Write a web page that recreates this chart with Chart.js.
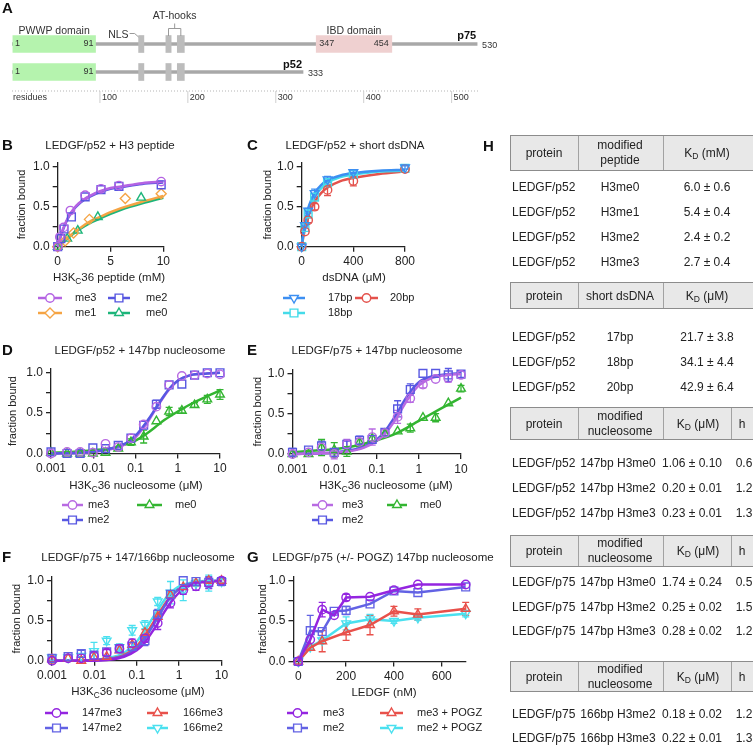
<!DOCTYPE html>
<html>
<head>
<meta charset="utf-8">
<script src="https://cdn.jsdelivr.net/npm/chart.js@4.4.1/dist/chart.umd.min.js"></script>
<style>
  body { margin: 0; background: #fff; width: 753px; height: 753px; overflow: hidden; position: relative;
         font-family: 'Liberation Sans', Arial, sans-serif; }
  canvas.layer { position: absolute; left: 0; top: 0; }
  .thead { position: absolute; background: #e8e8e8; border-top: 1px solid #8c8c8c; border-bottom: 1px solid #8c8c8c;
           border-left: 1px solid #8c8c8c; box-sizing: border-box; }
  .tdiv  { position: absolute; width: 1px; background: #a2a2a2; }
  .cell  { position: absolute; font-size: 12px; color: #222; white-space: nowrap; line-height: 15px; }
  .cell sub { font-size: 8.5px; vertical-align: -2px; line-height: 0; }
  .letter { position: absolute; font-weight: bold; font-size: 15px; color: #111; }
</style>
</head>
<body>
<canvas id="chartA" class="layer" width="753" height="753"></canvas>
<canvas id="chartB" class="layer" width="753" height="753"></canvas>
<canvas id="chartC" class="layer" width="753" height="753"></canvas>
<canvas id="chartD" class="layer" width="753" height="753"></canvas>
<canvas id="chartE" class="layer" width="753" height="753"></canvas>
<canvas id="chartF" class="layer" width="753" height="753"></canvas>
<canvas id="chartG" class="layer" width="753" height="753"></canvas>
<div id="panelH"><div class="letter" style="left:483px;top:137px">H</div></div>

<script>
// ── DATA ──────────────────────────────────────────────────────

// A: LEDGF domain map (residues)
const aRows   = ['p75', 'p52'];
const aLength = [529, 331];
const aPWWP   = [1, 95];
const aNLS    = [144, 150];
const aHook1  = [175, 181];
const aHook2  = [188, 196];
const aIBD    = [346, 432];
const aTicks  = [100, 200, 300, 400, 500];
const aEndLabels  = ['530', '333'];
const aPWWPLabels = ['1', '91'];
const aIBDLabels  = ['347', '454'];

// shared y axis
const yTicks  = [0, 0.25, 0.5, 0.75, 1];
const yLabels = [0, 0.5, 1];

// B: LEDGF/p52 + H3 peptide (mM)
const bTicks  = [0, 5, 10];
const bMe3X   = [0, 0.2, 0.55, 1.2, 2.6, 4.1, 5.8, 9.8];
const bMe3Y   = [0, 0.12, 0.24, 0.45, 0.64, 0.72, 0.76, 0.81];
const bMe2X   = [0, 0.3, 0.6, 1.3, 2.6, 4.1, 5.8, 9.8];
const bMe2Y   = [0, 0.10, 0.22, 0.37, 0.62, 0.71, 0.75, 0.77];
const bMe1X   = [0, 0.7, 1.5, 3.0, 6.4, 9.8];
const bMe1Y   = [0, 0.07, 0.17, 0.34, 0.60, 0.66];
const bMe0X   = [0, 0.9, 1.9, 3.8, 7.9];
const bMe0Y   = [0, 0.10, 0.20, 0.37, 0.61];
const bFitX   = [0, 0.25, 0.5, 1, 1.5, 2, 2.6, 3, 4, 5, 6, 8, 10];
const bFitMe3 = [0, 0.12, 0.22, 0.37, 0.47, 0.54, 0.60, 0.63, 0.69, 0.73, 0.75, 0.79, 0.81];
const bFitMe2 = [0, 0.11, 0.21, 0.36, 0.46, 0.53, 0.59, 0.62, 0.68, 0.72, 0.74, 0.78, 0.80];
const bFitX2  = [0, 1, 2, 3, 4, 5, 6, 8, 10];
const bFitMe1 = [0, 0.12, 0.22, 0.31, 0.37, 0.43, 0.48, 0.56, 0.63];
const bFitMe0 = [0, 0.11, 0.21, 0.29, 0.35, 0.41, 0.46, 0.54, 0.61];

// C: LEDGF/p52 + short dsDNA (µM)
const cTicks  = [0, 400, 800];
const cConc   = [0, 25, 50, 100, 200, 400, 800];
const c17     = [0, 0.27, 0.45, 0.67, 0.84, 0.93, 0.99];
const c17Err  = [0, 0, 0.03, 0.05, 0.04, 0.02, 0.02];
const c18     = [0, 0.24, 0.41, 0.62, 0.80, 0.91, 0.98];
const c18Err  = [0, 0, 0.03, 0.04, 0.03, 0.02, 0];
const c20     = [0, 0.19, 0.33, 0.50, 0.71, 0.82, 0.97];
const c20Err  = [0, 0, 0.03, 0.04, 0.07, 0.06, 0];
const cFitX   = [0, 12.5, 25, 50, 75, 100, 150, 200, 300, 400, 600, 800];
const cFit17  = [0, 0.17, 0.30, 0.48, 0.59, 0.67, 0.77, 0.83, 0.89, 0.92, 0.95, 0.96];
const cFit18  = [0, 0.15, 0.27, 0.44, 0.55, 0.63, 0.73, 0.80, 0.87, 0.90, 0.94, 0.95];
const cFit20  = [0, 0.12, 0.22, 0.37, 0.48, 0.56, 0.67, 0.74, 0.82, 0.86, 0.91, 0.94];

// D/E/F: nucleosome titrations (µM, log axis)
const logTicks = [0.001, 0.01, 0.1, 1, 10];
const nucConc  = [0.001, 0.0024, 0.0049, 0.0098, 0.0195, 0.039, 0.078, 0.156, 0.3125, 0.625, 1.25, 2.5, 5, 10];

const dMe3    = [0.00, 0.02, 0.02, 0.01, 0.12, 0.08, 0.19, 0.36, 0.58, 0.85, 0.96, 0.97, 0.99, 0.98];
const dMe2    = [0.02, 0.00, 0.00, 0.07, 0.06, 0.10, 0.19, 0.35, 0.61, 0.85, 0.86, 0.97, 1.00, 1.00];
const dMe2Err = [0, 0, 0, 0, 0, 0, 0, 0, 0.05, 0, 0, 0, 0, 0];
const dMe0    = [0.01, 0.00, 0.00, 0.00, 0.01, 0.06, 0.14, 0.21, 0.40, 0.52, 0.53, 0.60, 0.67, 0.73];
const dMe0Err = [0, 0, 0, 0, 0, 0, 0.04, 0.08, 0, 0.05, 0.03, 0.03, 0.05, 0.06];
const dFitX   = [0.001, 0.005, 0.01, 0.02, 0.035, 0.06, 0.1, 0.15, 0.2, 0.3, 0.45, 0.6, 1, 2, 5, 10];
const dFitMe2 = [0.00, 0.01, 0.02, 0.05, 0.08, 0.13, 0.22, 0.33, 0.42, 0.56, 0.70, 0.79, 0.90, 0.97, 0.99, 1.00];
const dFitMe3 = [0.00, 0.01, 0.02, 0.04, 0.07, 0.12, 0.20, 0.31, 0.40, 0.55, 0.69, 0.78, 0.90, 0.97, 0.99, 1.00];
const dFitX0  = [0.001, 0.003, 0.01, 0.03, 0.06, 0.1, 0.2, 0.3, 0.5, 1, 2, 5, 10];
const dFitMe0 = [0.01, 0.02, 0.04, 0.07, 0.12, 0.16, 0.26, 0.33, 0.42, 0.52, 0.61, 0.71, 0.78];

const eMe3    = [0.00, 0.02, 0.08, 0.00, 0.12, 0.15, 0.21, 0.26, 0.46, 0.69, 0.86, 0.93, 0.94, 0.98];
const eMe3Err = [0, 0, 0, 0.06, 0.06, 0.04, 0.10, 0.04, 0.08, 0.05, 0.04, 0, 0.05, 0];
const eMe2    = [0.02, 0.05, 0.10, 0.02, 0.12, 0.17, 0.18, 0.27, 0.56, 0.80, 1.00, 1.00, 0.98, 0.99];
const eMe2Err = [0.05, 0, 0.06, 0, 0.04, 0.05, 0, 0.04, 0.10, 0.07, 0, 0, 0.08, 0.04];
const eMe0    = [0.00, 0.00, 0.08, 0.05, 0.03, 0.14, 0.19, 0.25, 0.28, 0.32, 0.45, 0.45, 0.63, 0.81];
const eMe0Err = [0, 0.03, 0.10, 0.09, 0.06, 0.05, 0.04, 0, 0, 0.05, 0, 0.05, 0, 0.04];
const eFitX   = [0.001, 0.005, 0.01, 0.02, 0.05, 0.1, 0.15, 0.2, 0.3, 0.45, 0.6, 1, 2, 5, 10];
const eFitMe2 = [0.00, 0.01, 0.02, 0.04, 0.09, 0.18, 0.27, 0.36, 0.50, 0.66, 0.76, 0.89, 0.96, 0.99, 1.00];
const eFitMe3 = [0.00, 0.01, 0.02, 0.03, 0.08, 0.16, 0.24, 0.32, 0.45, 0.61, 0.71, 0.85, 0.94, 0.98, 0.99];
const eFitX0  = [0.001, 0.003, 0.01, 0.03, 0.1, 0.3, 1, 3, 10];
const eFitMe0 = [0.02, 0.04, 0.06, 0.10, 0.17, 0.26, 0.41, 0.55, 0.70];

const f147me3    = [0.00, 0.03, 0.03, 0.06, 0.10, 0.15, 0.22, 0.28, 0.47, 0.72, 0.88, 0.93, 0.97, 1.00];
const f147me3Err = [0, 0, 0, 0.04, 0.04, 0.04, 0.05, 0.05, 0.08, 0.06, 0.05, 0.05, 0.07, 0.03];
const f147me2    = [0.03, 0.05, 0.09, 0.07, 0.11, 0.15, 0.18, 0.25, 0.58, 0.83, 1.00, 0.99, 0.98, 0.99];
const f147me2Err = [0.03, 0, 0.04, 0, 0, 0.04, 0.05, 0.06, 0.06, 0.04, 0, 0, 0.07, 0.05];
const f166me3    = [0.02, 0.03, 0.00, 0.04, 0.05, 0.13, 0.20, 0.35, 0.55, 0.82, 0.92, 0.97, 1.00, 1.00];
const f166me3Err = [0.05, 0, 0, 0, 0, 0, 0, 0.04, 0.04, 0.04, 0, 0, 0, 0];
const f166me2    = [0.04, 0.04, 0.06, 0.12, 0.25, 0.17, 0.38, 0.45, 0.74, 0.85, 0.88, 0.97, 0.97, 0.99];
const f166me2Err = [0, 0, 0, 0.11, 0.05, 0.04, 0.06, 0.05, 0.05, 0.14, 0.13, 0.04, 0.10, 0.04];
const fFitX      = [0.001, 0.005, 0.01, 0.02, 0.05, 0.1, 0.15, 0.2, 0.3, 0.45, 0.6, 1, 2, 5, 10];
const fFit166me2 = [0, 0.00, 0.01, 0.03, 0.10, 0.24, 0.37, 0.47, 0.62, 0.76, 0.84, 0.93, 0.98, 1.00, 1.00];
const fFit166me3 = [0, 0.00, 0.01, 0.02, 0.07, 0.18, 0.30, 0.40, 0.55, 0.70, 0.79, 0.90, 0.97, 0.99, 1.00];
const fFit147me2 = [0, 0.00, 0.01, 0.02, 0.06, 0.16, 0.27, 0.37, 0.52, 0.68, 0.78, 0.90, 0.97, 0.99, 1.00];
const fFit147me3 = [0, 0.00, 0.00, 0.01, 0.05, 0.13, 0.22, 0.31, 0.45, 0.61, 0.71, 0.85, 0.95, 0.99, 1.00];

// G: LEDGF/p75 (+/- POGZ), LEDGF in nM
const gTicks     = [0, 200, 400, 600];
const gConc      = [0, 50, 100, 150, 200, 300, 400, 500, 700];
const gMe3       = [0, 0.27, 0.64, 0.57, 0.79, 0.80, 0.88, 0.95, 0.95];
const gMe3Err    = [0, 0, 0.09, 0, 0.04, 0, 0, 0, 0];
const gMe2       = [0, 0.38, 0.37, 0.62, 0.63, 0.71, 0.87, 0.85, 0.92];
const gMe2Err    = [0, 0.19, 0, 0, 0.05, 0, 0, 0, 0];
const gPogzConc  = [0, 50, 100, 200, 300, 400, 500, 700];
const gMe3Pogz   = [0, 0.17, 0.25, 0.36, 0.45, 0.62, 0.58, 0.65];
const gMe3PogzEr = [0, 0.03, 0.13, 0.10, 0.12, 0.06, 0.07, 0.08];
const gMe2Pogz   = [0, 0.18, 0.26, 0.47, 0.52, 0.50, 0.54, 0.59];
const gMe2PogzEr = [0, 0.03, 0.04, 0.08, 0.06, 0.03, 0.03, 0.04];

// H: dissociation constants
const t1Head = ['protein', 'modified<br>peptide', 'K<sub>D</sub> (mM)'];
const t1Rows = [['LEDGF/p52', 'H3me0', '6.0 ± 0.6'], ['LEDGF/p52', 'H3me1', '5.4 ± 0.4'],
                ['LEDGF/p52', 'H3me2', '2.4 ± 0.2'], ['LEDGF/p52', 'H3me3', '2.7 ± 0.4']];
const t2Head = ['protein', 'short dsDNA', 'K<sub>D</sub> (μM)'];
const t2Rows = [['LEDGF/p52', '17bp', '21.7 ± 3.8'], ['LEDGF/p52', '18bp', '34.1 ± 4.4'],
                ['LEDGF/p52', '20bp', '42.9 ± 6.4']];
const nucHead = ['protein', 'modified<br>nucleosome', 'K<sub>D</sub> (μM)', 'h'];
const t3Rows = [['LEDGF/p52', '147bp H3me0', '1.06 ± 0.10', '0.6'], ['LEDGF/p52', '147bp H3me2', '0.20 ± 0.01', '1.2'],
                ['LEDGF/p52', '147bp H3me3', '0.23 ± 0.01', '1.3']];
const t4Rows = [['LEDGF/p75', '147bp H3me0', '1.74 ± 0.24', '0.5'], ['LEDGF/p75', '147bp H3me2', '0.25 ± 0.02', '1.5'],
                ['LEDGF/p75', '147bp H3me3', '0.28 ± 0.02', '1.2']];
const t5Rows = [['LEDGF/p75', '166bp H3me2', '0.18 ± 0.02', '1.2'], ['LEDGF/p75', '166bp H3me3', '0.22 ± 0.01', '1.3']];

// ── ESTILO ────────────────────────────────────────────────────
const FONT   = "'Liberation Sans', Arial, sans-serif";
const NARROW = "'Liberation Sans Narrow', 'Liberation Sans', Arial, sans-serif";
Chart.defaults.font.family = FONT;
Chart.defaults.color = '#222';

const col = {
    b3: '#b463e3', b2: '#5656e0', b1: '#f5a444', b0: '#1db57a',
    c17: '#3c8ff2', c18: '#45dbe9', c20: '#e4524c',
    n3: '#b86ae2', n2: '#5858e2', n0: '#33b531',
    f3: '#9425e0', f2: '#6262e4', r3: '#e8514b', r2: '#4ae0ef'
};
const RAD = { circle: 4.2, rect: 5.5, triangle: 5, rectRot: 5 };
const axisGrid   = { drawOnChartArea: false, drawTicks: true, tickLength: 5, color: '#222', lineWidth: 1.3 };
const axisBorder = { display: true, color: '#222', width: 1.3 };

const pts = (xs, ys) => xs.map((x, i) => ({ x, y: ys[i] }));

function dots(label, color, style, xs, ys, errs, rot) {
    return {
        label, data: pts(xs, ys), errors: errs || null, order: 0,
        showLine: false, pointStyle: style, pointRotation: rot || 0, pointRadius: RAD[style],
        pointBorderColor: color, pointBackgroundColor: 'rgba(255,255,255,0)', pointBorderWidth: 1.4,
        borderColor: color, clip: false
    };
}
function joined(label, color, style, xs, ys, errs, rot) {
    const d = dots(label, color, style, xs, ys, errs, rot);
    d.showLine = true; d.borderWidth = 2.5; d.tension = 0;
    return d;
}
function fit(color, xs, ys) {
    return {
        data: pts(xs, ys), order: 1, showLine: true, borderColor: color, borderWidth: 2.5,
        pointRadius: 0, cubicInterpolationMode: 'monotone', clip: false
    };
}

// texto con subíndice: "_C" => C pequeño
function drawRich(ctx, text, cx, cy, size) {
    const parts = [];
    for (let i = 0; i < text.length; i++) {
        if (text[i] === '_') { parts.push({ t: text[i + 1], sub: true }); i++; }
        else if (parts.length && !parts[parts.length - 1].sub) parts[parts.length - 1].t += text[i];
        else parts.push({ t: text[i], sub: false });
    }
    let w = 0;
    parts.forEach(p => { ctx.font = (p.sub ? size * 0.72 : size) + 'px ' + FONT; p.w = ctx.measureText(p.t).width; w += p.w; });
    let x = cx - w / 2;
    ctx.textAlign = 'left'; ctx.textBaseline = 'middle';
    parts.forEach(p => {
        ctx.font = (p.sub ? size * 0.72 : size) + 'px ' + FONT;
        ctx.fillText(p.t, x, p.sub ? cy + size * 0.3 : cy);
        x += p.w;
    });
}

function drawErrorBars(chart) {
    const ctx = chart.ctx, xs = chart.scales.x, ys = chart.scales.y;
    chart.data.datasets.forEach(ds => {
        if (!ds.errors) return;
        ctx.save();
        ctx.strokeStyle = ds.pointBorderColor; ctx.lineWidth = 1.3;
        ds.data.forEach((p, i) => {
            const e = ds.errors[i];
            if (!e) return;
            const px = xs.getPixelForValue(p.x);
            const top = ys.getPixelForValue(p.y + e), bot = ys.getPixelForValue(p.y - e);
            ctx.beginPath();
            ctx.moveTo(px, top); ctx.lineTo(px, bot);
            ctx.moveTo(px - 3.5, top); ctx.lineTo(px + 3.5, top);
            ctx.moveTo(px - 3.5, bot); ctx.lineTo(px + 3.5, bot);
            ctx.stroke();
        });
        ctx.restore();
    });
}

function decoPlugin(cfg) {
    return {
        id: 'deco',
        beforeDatasetsDraw(chart) { drawErrorBars(chart); },
        afterDraw(chart) {
            const ctx = chart.ctx;
            ctx.save();
            ctx.textBaseline = 'middle';
            ctx.fillStyle = '#111'; ctx.textAlign = 'left';
            ctx.font = 'bold 15px ' + FONT;
            ctx.fillText(cfg.letter, cfg.letterX, cfg.titleY);
            ctx.fillStyle = '#222'; ctx.textAlign = 'center';
            ctx.font = '11.5px ' + FONT;
            ctx.fillText(cfg.title, cfg.titleX, cfg.titleY);
            drawRich(ctx, cfg.xTitle, cfg.xTitleX, cfg.xTitleY, 11.5);
            // leyenda
            cfg.legend.forEach(it => {
                const ds = chart.data.datasets[it.ds];
                const c = ds.pointBorderColor;
                ctx.strokeStyle = c; ctx.lineWidth = 2.5;
                ctx.beginPath(); ctx.moveTo(it.x0, it.y); ctx.lineTo(it.x1, it.y); ctx.stroke();
                ctx.fillStyle = '#fff'; ctx.lineWidth = 1.4;
                Chart.helpers.drawPoint(ctx, { pointStyle: ds.pointStyle, radius: ds.pointRadius,
                    rotation: ds.pointRotation, borderWidth: 1.4 }, (it.x0 + it.x1) / 2, it.y);
                ctx.fillStyle = '#222'; ctx.textAlign = 'left'; ctx.textBaseline = 'middle';
                ctx.font = '11px ' + FONT;
                ctx.fillText(ds.label, it.tx, it.y);
            });
            ctx.restore();
        }
    };
}

function makePanel(id, geo, xOpts, datasets, deco) {
    const padL = geo.yTitleX - 6.6;
    const x = Object.assign({
        position: 'bottom', bounds: 'data',
        afterFit: s => { s.height = 40; },
        ticks: { font: { size: 12 }, color: '#222', padding: 3, autoSkip: false, maxRotation: 0, callback: v => String(v) },
        grid: axisGrid, border: axisBorder
    }, xOpts);
    return new Chart(document.getElementById(id), {
        type: 'scatter',
        data: { datasets },
        options: {
            responsive: false, animation: false, events: [],
            layout: { padding: { left: padL, top: geo.top, right: 753 - geo.right, bottom: 753 - geo.bottom - 40 } },
            scales: {
                x,
                y: {
                    type: 'linear', min: 0, max: 1.05, bounds: 'data',
                    afterFit: s => { s.width = geo.left - padL; },
                    afterBuildTicks: s => { s.ticks = yTicks.map(v => ({ value: v })); },
                    ticks: { font: { size: 12 }, color: '#222', padding: 3,
                             callback: v => yLabels.includes(v) ? v.toFixed(1) : '' },
                    grid: axisGrid, border: axisBorder,
                    title: { display: true, text: 'fraction bound', font: { size: 11 }, color: '#222', padding: 0 }
                }
            },
            plugins: { legend: { display: false }, tooltip: { enabled: false } }
        },
        plugins: [decoPlugin(deco)]
    });
}

// ── PANEL A ───────────────────────────────────────────────────
const aDeco = {
    id: 'aDeco',
    afterDraw(chart) {
        const ctx = chart.ctx, xs = chart.scales.x, ys = chart.scales.y;
        const X = v => xs.getPixelForValue(v);
        const rowY = aRows.map((r, i) => ys.getPixelForValue(i));
        const mid = r => X((r[0] + r[1]) / 2);
        ctx.save();
        ctx.textBaseline = 'middle';
        ctx.fillStyle = '#111'; ctx.textAlign = 'left'; ctx.font = 'bold 15px ' + FONT;
        ctx.fillText('A', 2, 9);

        ctx.fillStyle = '#333'; ctx.font = '10.5px ' + NARROW; ctx.textAlign = 'center';
        ctx.fillText('PWWP domain', mid(aPWWP), 31);
        ctx.fillText('IBD domain', mid(aIBD), 31);
        const h1 = mid(aHook1), h2 = mid(aHook2), hm = (h1 + h2) / 2;
        ctx.fillText('AT-hooks', hm, 16.5);
        ctx.textAlign = 'right';
        ctx.fillText('NLS', X(aNLS[0]) - 10, 35);

        ctx.strokeStyle = '#9a9a9a'; ctx.lineWidth = 1;
        ctx.beginPath();
        ctx.moveTo(X(aNLS[0]) - 9, 33.5); ctx.lineTo(X(aNLS[0]) - 4, 33.5); ctx.lineTo(X(aNLS[0]), 37);
        ctx.moveTo(h1, 36); ctx.lineTo(h1, 28.5); ctx.lineTo(h2, 28.5); ctx.lineTo(h2, 36);
        ctx.moveTo(hm, 28.5); ctx.lineTo(hm, 23.5);
        ctx.stroke();

        ctx.font = '9px ' + NARROW; ctx.fillStyle = '#333';
        rowY.forEach(y => {
            ctx.textAlign = 'left';  ctx.fillText(aPWWPLabels[0], X(aPWWP[0]) + 2, y);
            ctx.textAlign = 'right'; ctx.fillText(aPWWPLabels[1], X(aPWWP[1]) - 2, y);
        });
        ctx.textAlign = 'left';  ctx.fillText(aIBDLabels[0], X(aIBD[0]) + 3, rowY[0]);
        ctx.textAlign = 'right'; ctx.fillText(aIBDLabels[1], X(aIBD[1]) - 3, rowY[0]);
        ctx.textAlign = 'left';
        aEndLabels.forEach((t, i) => ctx.fillText(t, X(aLength[i]) + 5, rowY[i] + 2));

        ctx.font = 'bold 11px ' + NARROW; ctx.fillStyle = '#111'; ctx.textAlign = 'right';
        aRows.forEach((t, i) => ctx.fillText(t, X(aLength[i]) - 1, rowY[i] - (i === 0 ? 8.5 : 7)));

        // eje de residuos
        ctx.strokeStyle = '#b5b5b5'; ctx.setLineDash([1, 2]);
        ctx.beginPath(); ctx.moveTo(X(0), 91); ctx.lineTo(X(530), 91); ctx.stroke();
        ctx.setLineDash([]); ctx.strokeStyle = '#cfcfcf';
        ctx.font = '9px ' + NARROW; ctx.fillStyle = '#333'; ctx.textAlign = 'left';
        ctx.fillText('residues', X(0) + 1, 97.5);
        aTicks.forEach(t => {
            ctx.beginPath(); ctx.moveTo(X(t), 91); ctx.lineTo(X(t), 103); ctx.stroke();
            ctx.fillText(String(t), X(t) + 2, 97.5);
        });
        ctx.restore();
    }
};

const boxOpts = { barThickness: 17, grouped: false, borderWidth: 0, order: 1 };
new Chart(document.getElementById('chartA'), {
    type: 'bar',
    data: {
        labels: aRows,
        datasets: [
            Object.assign({ label: 'PWWP domain', data: aRows.map(r => ({ y: r, x: aPWWP })), backgroundColor: '#b5f3ae' }, boxOpts),
            Object.assign({ label: 'NLS', data: aRows.map(r => ({ y: r, x: aNLS })), backgroundColor: '#bcbcbc' }, boxOpts),
            Object.assign({ label: 'AT-hook 1', data: aRows.map(r => ({ y: r, x: aHook1 })), backgroundColor: '#bcbcbc' }, boxOpts),
            Object.assign({ label: 'AT-hook 2', data: aRows.map(r => ({ y: r, x: aHook2 })), backgroundColor: '#bcbcbc' }, boxOpts),
            Object.assign({ label: 'IBD domain', data: [{ y: 'p75', x: aIBD }], backgroundColor: '#efd0d0' }, boxOpts),
            { label: 'backbone', data: aRows.map((r, i) => ({ y: r, x: [0, aLength[i]] })),
              backgroundColor: '#a8a8a8', barThickness: 3, grouped: false, borderWidth: 0, order: 2 }
        ]
    },
    options: {
        indexAxis: 'y', responsive: false, animation: false, events: [],
        layout: { padding: { left: 12, right: 753 - 478, top: 30, bottom: 753 - 86 } },
        scales: {
            x: { type: 'linear', min: 0, max: 530, display: false },
            y: { type: 'category', display: false, offset: true }
        },
        plugins: { legend: { display: false }, tooltip: { enabled: false } }
    },
    plugins: [aDeco]
});

// ── PANEL B ───────────────────────────────────────────────────
makePanel('chartB', { left: 57.7, right: 163.3, top: 162.3, bottom: 246.7, yTitleX: 21.7 },
    { type: 'linear', min: 0, max: 10, afterBuildTicks: s => { s.ticks = bTicks.map(v => ({ value: v })); } },
    [
        dots('me3', col.b3, 'circle', bMe3X, bMe3Y),
        dots('me2', col.b2, 'rect', bMe2X, bMe2Y),
        dots('me1', col.b1, 'rectRot', bMe1X, bMe1Y),
        dots('me0', col.b0, 'triangle', bMe0X, bMe0Y),
        fit(col.b3, bFitX, bFitMe3), fit(col.b2, bFitX, bFitMe2),
        fit(col.b1, bFitX2, bFitMe1), fit(col.b0, bFitX2, bFitMe0)
    ],
    { letter: 'B', letterX: 2, title: 'LEDGF/p52 + H3 peptide', titleX: 110, titleY: 146,
      xTitle: 'H3K_C36 peptide (mM)', xTitleX: 109, xTitleY: 278,
      legend: [{ ds: 0, x0: 38, x1: 62, tx: 75, y: 298 }, { ds: 1, x0: 108, x1: 130, tx: 146, y: 298 },
               { ds: 2, x0: 38, x1: 62, tx: 75, y: 313 }, { ds: 3, x0: 108, x1: 130, tx: 146, y: 313 }] });

// ── PANEL C ───────────────────────────────────────────────────
makePanel('chartC', { left: 301.7, right: 405, top: 162.7, bottom: 246.7, yTitleX: 268.3 },
    { type: 'linear', min: 0, max: 800, afterBuildTicks: s => { s.ticks = cTicks.map(v => ({ value: v })); } },
    [
        dots('17bp', col.c17, 'triangle', cConc, c17, c17Err, 180),
        dots('20bp', col.c20, 'circle', cConc, c20, c20Err),
        dots('18bp', col.c18, 'rect', cConc, c18, c18Err),
        fit(col.c17, cFitX, cFit17), fit(col.c18, cFitX, cFit18), fit(col.c20, cFitX, cFit20)
    ],
    { letter: 'C', letterX: 247, title: 'LEDGF/p52 + short dsDNA', titleX: 355, titleY: 146,
      xTitle: 'dsDNA (μM)', xTitleX: 354, xTitleY: 278,
      legend: [{ ds: 0, x0: 283, x1: 305, tx: 328, y: 298 }, { ds: 1, x0: 355, x1: 378, tx: 390, y: 298 },
               { ds: 2, x0: 283, x1: 305, tx: 328, y: 313 }] });

// ── PANEL D ───────────────────────────────────────────────────
const logX = { type: 'logarithmic', min: 0.001, max: 10, afterBuildTicks: s => { s.ticks = logTicks.map(v => ({ value: v })); } };

makePanel('chartD', { left: 51, right: 220, top: 368.7, bottom: 453.5, yTitleX: 12.5 }, logX,
    [
        dots('me3', col.n3, 'circle', nucConc, dMe3),
        dots('me2', col.n2, 'rect', nucConc, dMe2, dMe2Err),
        dots('me0', col.n0, 'triangle', nucConc, dMe0, dMe0Err),
        fit(col.n2, dFitX, dFitMe2), fit(col.n3, dFitX, dFitMe3), fit(col.n0, dFitX0, dFitMe0)
    ],
    { letter: 'D', letterX: 2, title: 'LEDGF/p52 + 147bp nucleosome', titleX: 140, titleY: 351,
      xTitle: 'H3K_C36 nucleosome (μM)', xTitleX: 136, xTitleY: 486,
      legend: [{ ds: 0, x0: 62, x1: 83, tx: 88, y: 505 }, { ds: 2, x0: 137, x1: 162, tx: 175, y: 505 },
               { ds: 1, x0: 62, x1: 83, tx: 88, y: 520 }] });

// ── PANEL E ───────────────────────────────────────────────────
makePanel('chartE', { left: 292.5, right: 461, top: 369.3, bottom: 454, yTitleX: 258.3 }, logX,
    [
        dots('me3', col.n3, 'circle', nucConc, eMe3, eMe3Err),
        dots('me2', col.n2, 'rect', nucConc, eMe2, eMe2Err),
        dots('me0', col.n0, 'triangle', nucConc, eMe0, eMe0Err),
        fit(col.n3, eFitX, eFitMe3), fit(col.n2, eFitX, eFitMe2), fit(col.n0, eFitX0, eFitMe0)
    ],
    { letter: 'E', letterX: 247, title: 'LEDGF/p75 + 147bp nucleosome', titleX: 377, titleY: 351,
      xTitle: 'H3K_C36 nucleosome (μM)', xTitleX: 386, xTitleY: 486,
      legend: [{ ds: 0, x0: 312, x1: 333, tx: 342, y: 505 }, { ds: 2, x0: 387, x1: 407, tx: 420, y: 505 },
               { ds: 1, x0: 312, x1: 333, tx: 342, y: 520 }] });

// ── PANEL F ───────────────────────────────────────────────────
makePanel('chartF', { left: 52, right: 221.5, top: 576.7, bottom: 660.7, yTitleX: 17 }, logX,
    [
        dots('147me3', col.f3, 'circle', nucConc, f147me3, f147me3Err),
        dots('147me2', col.f2, 'rect', nucConc, f147me2, f147me2Err),
        dots('166me3', col.r3, 'triangle', nucConc, f166me3, f166me3Err),
        dots('166me2', col.r2, 'triangle', nucConc, f166me2, f166me2Err, 180),
        fit(col.f3, fFitX, fFit147me3), fit(col.f2, fFitX, fFit147me2),
        fit(col.r3, fFitX, fFit166me3), fit(col.r2, fFitX, fFit166me2)
    ],
    { letter: 'F', letterX: 2, title: 'LEDGF/p75 + 147/166bp nucleosome', titleX: 138, titleY: 558,
      xTitle: 'H3K_C36 nucleosome (μM)', xTitleX: 138, xTitleY: 692,
      legend: [{ ds: 0, x0: 45, x1: 68, tx: 82, y: 713 }, { ds: 2, x0: 147, x1: 168, tx: 183, y: 713 },
               { ds: 1, x0: 45, x1: 68, tx: 82, y: 728 }, { ds: 3, x0: 147, x1: 168, tx: 183, y: 728 }] });

// ── PANEL G ───────────────────────────────────────────────────
makePanel('chartG', { left: 293.5, right: 465.7, top: 576.4, bottom: 661.5, yTitleX: 263.3 },
    { type: 'linear', min: -20, max: 700, afterBuildTicks: s => { s.ticks = gTicks.map(v => ({ value: v })); } },
    [
        joined('me3', col.f3, 'circle', gConc, gMe3, gMe3Err),
        joined('me2', col.f2, 'rect', gConc, gMe2, gMe2Err),
        joined('me3 + POGZ', col.r3, 'triangle', gPogzConc, gMe3Pogz, gMe3PogzEr),
        joined('me2 + POGZ', col.r2, 'triangle', gPogzConc, gMe2Pogz, gMe2PogzEr, 180)
    ],
    { letter: 'G', letterX: 247, title: 'LEDGF/p75 (+/- POGZ) 147bp nucleosome', titleX: 383, titleY: 558,
      xTitle: 'LEDGF (nM)', xTitleX: 384, xTitleY: 693,
      legend: [{ ds: 0, x0: 287, x1: 308, tx: 323, y: 713 }, { ds: 2, x0: 380, x1: 403, tx: 417, y: 713 },
               { ds: 1, x0: 287, x1: 308, tx: 323, y: 728 }, { ds: 3, x0: 380, x1: 403, tx: 417, y: 728 }] });

// ── PANEL H: tablas ───────────────────────────────────────────
const col3 = { cols: [510, 578, 663], headX: [544, 620, 707], rowX: [512, 620, 707] };
const col4 = { cols: [510, 578, 663, 731], headX: [544, 620, 698, 742], rowX: [512, 618, 692, 744] };
const tables = [
    Object.assign({ top: 135, h: 36, heads: t1Head, rows: t1Rows, rowY: [186.7, 211.7, 236.7, 261.7] }, col3),
    Object.assign({ top: 282, h: 27, heads: t2Head, rows: t2Rows, rowY: [336.7, 361.7, 386.7] }, col3),
    Object.assign({ top: 407, h: 33, heads: nucHead, rows: t3Rows, rowY: [463, 488, 512.7] }, col4),
    Object.assign({ top: 535, h: 32, heads: nucHead, rows: t4Rows, rowY: [581.7, 606.7, 631] }, col4),
    Object.assign({ top: 661, h: 31, heads: nucHead, rows: t5Rows, rowY: [714.3, 738.3] }, col4)
];

function addCell(host, html, x, y, centered) {
    const d = document.createElement('div');
    d.className = 'cell';
    d.innerHTML = html;
    d.style.left = x + 'px';
    d.style.top = y + 'px';
    d.style.textAlign = 'center';
    d.style.transform = centered ? 'translate(-50%, -50%)' : 'translateY(-50%)';
    host.appendChild(d);
}

const hostH = document.getElementById('panelH');
tables.forEach(t => {
    const head = document.createElement('div');
    head.className = 'thead';
    head.style.cssText = `left:${t.cols[0]}px;top:${t.top}px;width:${760 - t.cols[0]}px;height:${t.h}px`;
    hostH.appendChild(head);
    t.cols.slice(1).forEach(cx => {
        const d = document.createElement('div');
        d.className = 'tdiv';
        d.style.cssText = `left:${cx}px;top:${t.top + 1}px;height:${t.h - 2}px`;
        hostH.appendChild(d);
    });
    t.heads.forEach((txt, i) => addCell(hostH, txt, t.headX[i], t.top + t.h / 2, true));
    t.rows.forEach((row, r) => row.forEach((txt, c) => addCell(hostH, txt, t.rowX[c], t.rowY[r], c > 0)));
});
</script>
</body>
</html>
